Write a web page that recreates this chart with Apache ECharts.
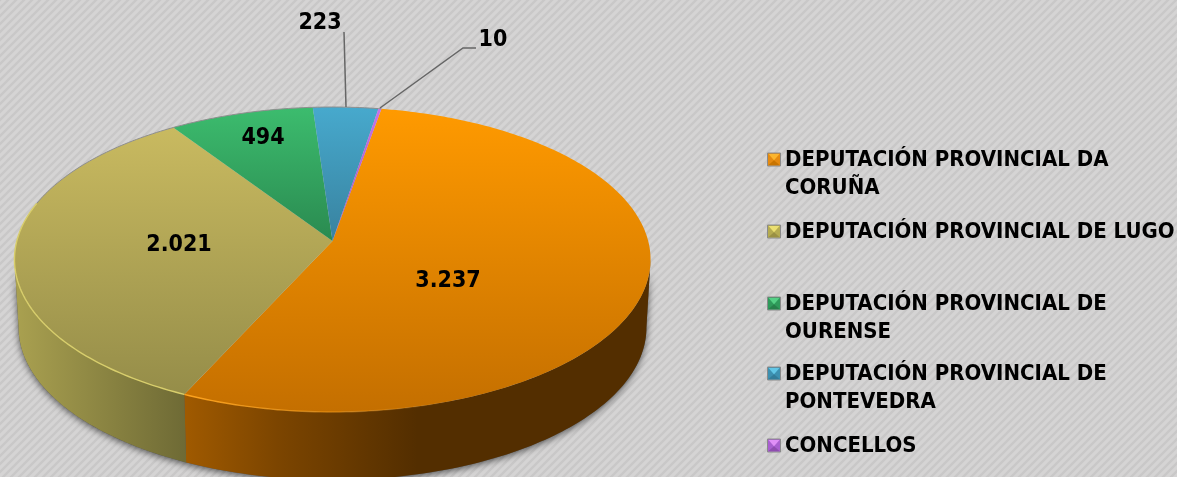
<!DOCTYPE html>
<html>
<head>
<meta charset="utf-8">
<style>
  html, body { margin: 0; padding: 0; background: #d2d1d1; }
  #chart { width: 1177px; height: 477px; }
</style>
<script src="https://cdn.jsdelivr.net/npm/echarts@6/dist/echarts.min.js"></script>
</head>
<body>
<div id="chart"></div>
<script>
  const categories = [
    'DEPUTACIÓN PROVINCIAL DA\nCORUÑA',
    'DEPUTACIÓN PROVINCIAL DE LUGO',
    'DEPUTACIÓN PROVINCIAL DE\nOURENSE',
    'DEPUTACIÓN PROVINCIAL DE\nPONTEVEDRA',
    'CONCELLOS'
  ];
  const values = [3237, 2021, 494, 223, 10];
  const valueLabels = ['3.237', '2.021', '494', '223', '10'];

  // colores de cada porcion: arriba, abajo, pared izq, pared der, borde
  const topStart = ['#ff9a00', '#c9ba60', '#3cbc6e', '#47a9cd', '#c673ea'];
  const topEnd = ['#c46f00', '#958d49', '#2a8a50', '#38829f', '#9a55b8'];
  const wallStart = ['#a05a00', '#aaa150', '#2a8a50', '#38829f', '#9a55b8'];
  const wallEnd = ['#532e00', '#6e6a35', '#1c5c36', '#25566a', '#663880'];
  const rimColor = ['#ffa41e', '#d8ce6c', '#3cbc6e', '#47a9cd', '#c673ea'];
  const swatchMid = ['#e58a10', '#b5ab50', '#2f9a5a', '#3d90b0', '#a95fd0'];
  const swatchLight = ['#fbb52e', '#ebdf70', '#55d085', '#62c6e6', '#e08ff8'];
  const swatchDark = ['#c87400', '#9a9042', '#27804a', '#337c99', '#8f4db0'];

  const labelPos = [[448, 281], [179, 245], [263, 138], [320, 23], [493, 40]];
  const legendRowY = [159, 231, 303, 373, 445];

  // perspectiva del disco (medida sobre la imagen)
  const cx = 332.5, cy = 241, ra = 121, rd = 315.7, persp = -0.1213;
  const startDeg = 10, wallH = 68, wallShrink = 0.987;
  // angulos donde la pared toca el contorno del disco
  const wallFrom = 97, wallTo = 263;
  const total = values.reduce((a, b) => a + b, 0);

  function rimPoint(deg) {
    const t = deg * Math.PI / 180;
    const u = Math.sin(t), v = -Math.cos(t);
    const k = 1 + persp * v;
    return [cx + rd * u / k, (cy + ra * v) / k];
  }

  function sliceRange(idx) {
    let from = startDeg;
    for (let i = 0; i < idx; i++) from += values[i] / total * 360;
    return [from, from + values[idx] / total * 360];
  }

  function arcPoints(from, to) {
    const pts = [];
    const n = Math.max(2, Math.ceil(to - from));
    for (let i = 0; i <= n; i++) pts.push(rimPoint(from + (to - from) * i / n));
    return pts;
  }

  function vGrad(a, b) {
    return new echarts.graphic.LinearGradient(0, 0, 0, 1, [
      { offset: 0, color: a }, { offset: 1, color: b }
    ]);
  }

  function wallPoints(from, to) {
    const top = arcPoints(from, to);
    const bottom = top.map(p => [cx + (p[0] - cx) * wallShrink, p[1] + wallH]).reverse();
    return top.concat(bottom);
  }

  function renderShadow() {
    return {
      type: 'polygon',
      shape: { points: wallPoints(wallFrom, wallTo) },
      style: { fill: '#555', shadowColor: 'rgba(0,0,0,0.6)', shadowBlur: 7, shadowOffsetY: 2 }
    };
  }

  function renderWall(params, api) {
    const idx = params.dataIndex;
    const range = sliceRange(idx);
    // solo se ve la pared de delante
    const from = Math.max(range[0], wallFrom), to = Math.min(range[1], wallTo);
    if (to <= from) return { type: 'group', children: [] };
    return {
      type: 'polygon',
      shape: { points: wallPoints(from, to) },
      style: {
        fill: new echarts.graphic.LinearGradient(0, 0, 1, 0, idx === 0
          ? [{ offset: 0, color: wallStart[idx] }, { offset: 0.2, color: '#7c4500' }, { offset: 0.5, color: wallEnd[idx] }, { offset: 1, color: wallEnd[idx] }]
          : [{ offset: 0, color: wallStart[idx] }, { offset: 1, color: wallEnd[idx] }])
      }
    };
  }

  function renderTop(params, api) {
    const idx = params.dataIndex;
    const range = sliceRange(idx);
    const children = [{
      type: 'polygon',
      shape: { points: [[cx, cy]].concat(arcPoints(range[0], range[1])) },
      style: { fill: vGrad(topStart[idx], topEnd[idx]) }
    }];
    // borde claro solo delante, gris fino detras
    const frontFrom = Math.max(range[0], 160), frontTo = Math.min(range[1], 285);
    if (frontTo > frontFrom) {
      children.push({
        type: 'polyline',
        shape: { points: arcPoints(frontFrom, frontTo) },
        style: {
          stroke: idx === 0
            ? new echarts.graphic.LinearGradient(0, 0, 1, 0, [
                { offset: 0, color: rimColor[idx] }, { offset: 1, color: 'rgba(255,164,30,0)' }
              ])
            : rimColor[idx],
          lineWidth: 1.4,
          fill: null
        }
      });
    }
    const backFrom = Math.max(range[0], 285), backTo = range[1];
    if (backTo > backFrom) {
      children.push({
        type: 'polyline',
        shape: { points: arcPoints(backFrom, backTo) },
        style: { stroke: '#8e8e8e', lineWidth: 1, fill: null }
      });
    }
    return { type: 'group', children: children };
  }

  function renderLabel(params, api) {
    const idx = params.dataIndex;
    return {
      type: 'text',
      style: {
        x: labelPos[idx][0],
        y: labelPos[idx][1],
        text: valueLabels[idx],
        fill: '#000',
        font: 'bold 23px "DejaVu Sans Condensed", "DejaVu Sans"',
        align: 'center',
        verticalAlign: 'middle'
      }
    };
  }

  function renderLegend(params, api) {
    const idx = params.dataIndex;
    const y = legendRowY[idx], x0 = 767.5, s = 13, y0 = y - 6;
    const c = [x0 + s / 2, y0 + s * 0.55];
    return {
      type: 'group',
      children: [{
        type: 'rect',
        shape: { x: x0, y: y0, width: s, height: s },
        style: { fill: swatchMid[idx], stroke: '#8a8a8a', lineWidth: 1 }
      }, {
        type: 'polygon',
        shape: { points: [[x0 + 1, y0 + 1], [x0 + s - 1, y0 + 1], c] },
        style: { fill: swatchLight[idx] }
      }, {
        type: 'polygon',
        shape: { points: [[x0 + 1, y0 + s - 1], [x0 + s - 1, y0 + s - 1], c] },
        style: { fill: swatchDark[idx] }
      }, {
        type: 'text',
        style: {
          x: 785,
          y: y - 13,
          text: categories[idx],
          fill: '#000',
          font: 'bold 22px "DejaVu Sans Condensed", "DejaVu Sans"',
          lineHeight: 28.5,
          align: 'left',
          verticalAlign: 'top'
        }
      }]
    };
  }

  // fondo rayado
  const stripe = document.createElement('canvas');
  stripe.width = 8; stripe.height = 8;
  const g = stripe.getContext('2d');
  g.fillStyle = '#d5d4d4';
  g.fillRect(0, 0, 8, 8);
  g.strokeStyle = '#c9c8c8';
  g.lineWidth = 2.4;
  g.beginPath();
  g.moveTo(-2, 2); g.lineTo(2, -2);
  g.moveTo(-2, 10); g.lineTo(10, -2);
  g.moveTo(6, 10); g.lineTo(10, 6);
  g.stroke();

  const chart = echarts.init(document.getElementById('chart'), null, { renderer: 'canvas' });
  chart.setOption({
    animation: false,
    backgroundColor: { image: stripe, repeat: 'repeat' },
    series: [
      { type: 'custom', name: 'sombra', coordinateSystem: 'none', z: 0, data: [total], renderItem: renderShadow, silent: true },
      { type: 'custom', name: 'paredes', coordinateSystem: 'none', z: 1, data: values, renderItem: renderWall, silent: true },
      { type: 'custom', name: 'disco', coordinateSystem: 'none', z: 2, data: values, renderItem: renderTop, silent: true },
      { type: 'custom', name: 'etiquetas', coordinateSystem: 'none', z: 4, data: values, renderItem: renderLabel, silent: true },
      { type: 'custom', name: 'leyenda', coordinateSystem: 'none', z: 4, data: values, renderItem: renderLegend, silent: true }
    ],
    graphic: [
      { type: 'polyline', z: 5, shape: { points: [[344, 32], [346, 107]] }, style: { stroke: '#666', lineWidth: 1.5, fill: null } },
      { type: 'polyline', z: 5, shape: { points: [[380, 108], [463, 48], [476, 48]] }, style: { stroke: '#666', lineWidth: 1.5, fill: null } }
    ]
  });
</script>
</body>
</html>
